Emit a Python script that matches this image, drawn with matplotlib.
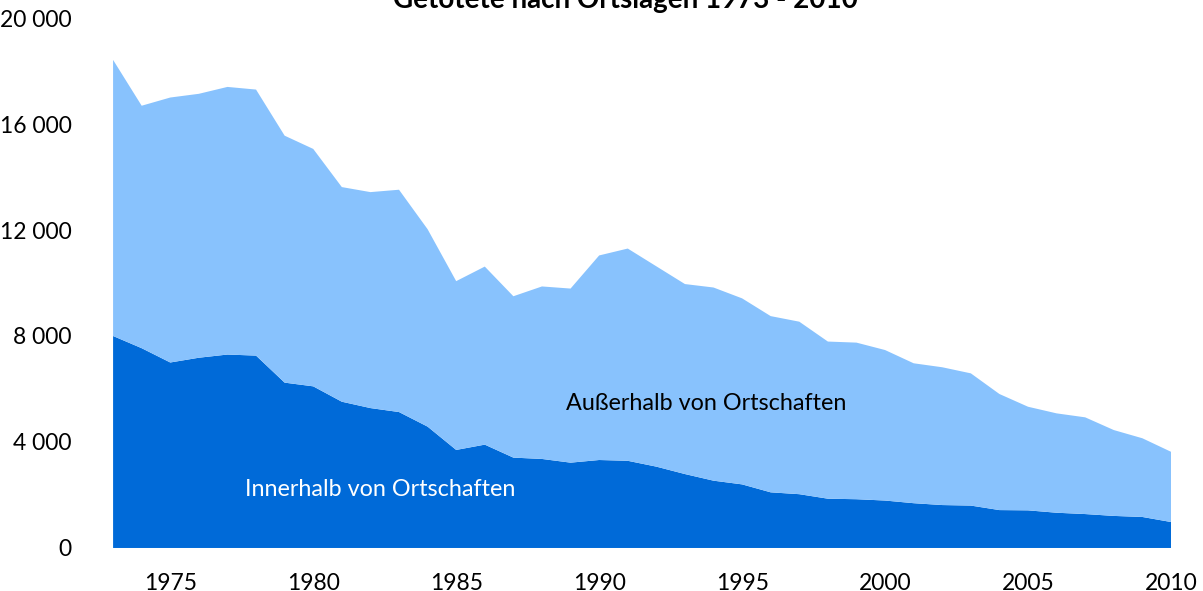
import numpy as np
import matplotlib
matplotlib.use("Agg")
from matplotlib import pyplot as plt

# Getötete nach Ortslagen
years = list(range(1973, 2011))
innerorts = [8000, 7540, 7000, 7180, 7300, 7260, 6240, 6100, 5520, 5280,
             5130, 4580, 3700, 3900, 3410, 3360, 3220, 3320, 3290, 3070,
             2790, 2540, 2400, 2100, 2030, 1860, 1840, 1790, 1690, 1620,
             1600, 1430, 1420, 1330, 1280, 1210, 1170, 980]
gesamt = [18420, 16690, 17000, 17140, 17400, 17300, 15560, 15060, 13620, 13430,
          13520, 12030, 10070, 10620, 9500, 9870, 9790, 11040, 11300, 10630,
          9960, 9830, 9420, 8750, 8540, 7790, 7750, 7470, 6970, 6820,
          6590, 5810, 5330, 5080, 4930, 4450, 4140, 3630]
ausserorts = [g - i for g, i in zip(gesamt, innerorts)]

x_ticks = [1975, 1980, 1985, 1990, 1995, 2000, 2005, 2010]
y_ticks = [0, 4000, 8000, 12000, 16000, 20000]

plt.rcParams['font.family'] = ['Lato', 'DejaVu Sans']

fig = plt.figure(figsize=(12.03, 5.91), dpi=100)
ax = fig.add_axes([0.094, 0.0728, 0.8794, 0.8967])

ax.stackplot(years, innerorts, ausserorts, colors=["#006ad8", "#88c2fd"], linewidth=0)

ax.set_xlim(1973, 2010)
ax.set_ylim(0, 20000)
ax.set_xticks(x_ticks)
ax.set_yticks(y_ticks)
ax.set_yticklabels([f"{v:,}".replace(",", " ") for v in y_ticks])
ax.tick_params(axis="both", length=0, labelsize=16.5, colors="black")
ax.tick_params(axis="y", pad=30)
ax.tick_params(axis="x", pad=18)
for s in ax.spines.values():
    s.set_visible(False)

ax.text(1982.33, 2190, "Innerhalb von Ortschaften", color="white", fontsize=16.8,
        ha="center", va="center")
ax.text(1993.73, 5470, "Außerhalb von Ortschaften", color="black", fontsize=16.8,
        ha="center", va="center")

fig.text(0.52, 1.0, "Getötete nach Ortslagen 1973 - 2010", ha="center", va="center",
         fontsize=20, fontweight="bold")

fig.savefig("out.png", dpi=100)
